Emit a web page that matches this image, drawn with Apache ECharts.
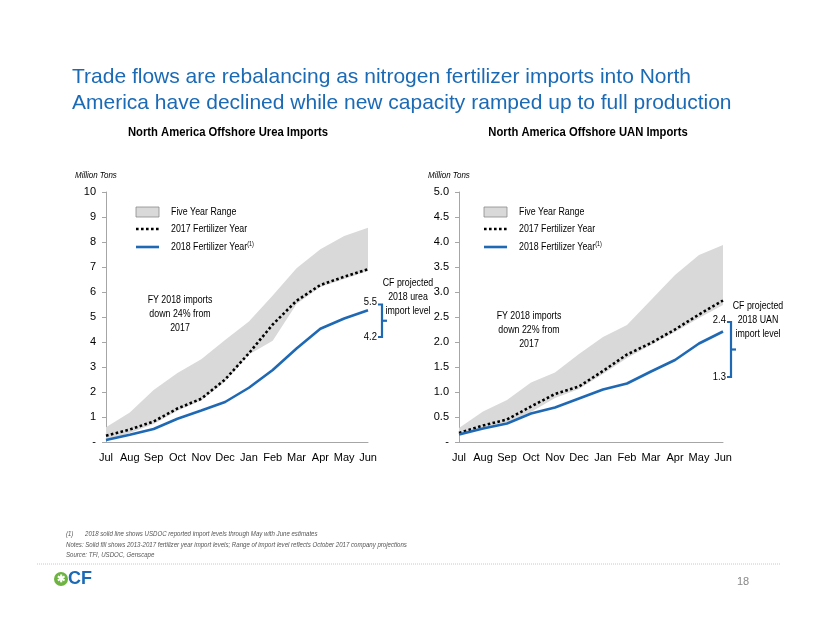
<!DOCTYPE html>
<html>
<head>
<meta charset="utf-8">
<script src="https://cdn.jsdelivr.net/npm/echarts@6/dist/echarts.min.js"></script>
<style>html,body{margin:0;padding:0;background:#fff;}#c{width:822px;height:635px;}</style>
</head>
<body>
<div id="c"></div>
<script>
var months = ['Jul','Aug','Sep','Oct','Nov','Dec','Jan','Feb','Mar','Apr','May','Jun'];

// Urea (million tons)
var ureaLow  = [0.03,0.36,0.72,1.25,1.66,2.42,3.50,4.05,5.52,6.20,6.52,6.84];
var ureaHigh = [0.59,1.18,2.08,2.76,3.31,4.08,4.82,5.86,6.95,7.71,8.24,8.57];
var urea2017 = [0.25,0.50,0.82,1.34,1.73,2.50,3.55,4.70,5.65,6.28,6.61,6.91];
var urea2018 = [0.08,0.29,0.52,0.93,1.26,1.60,2.17,2.88,3.74,4.53,4.94,5.27];
var ureaProj = [5.5,4.2];

// UAN (million tons)
var uanLow  = [0.13,0.28,0.40,0.60,0.88,1.06,1.36,1.68,1.94,2.20,2.48,2.74];
var uanHigh = [0.28,0.61,0.84,1.19,1.39,1.76,2.10,2.34,2.84,3.34,3.74,3.94];
var uan2017 = [0.18,0.33,0.45,0.71,0.96,1.11,1.42,1.75,1.98,2.25,2.55,2.83];
var uan2018 = [0.15,0.27,0.37,0.57,0.69,0.87,1.05,1.17,1.41,1.64,1.97,2.21];
var uanProj = [2.4,1.3];

var yTicksUrea = {min:0,max:10,interval:1};
var yTicksUan = {min:0,max:5,interval:0.5};

var FONT = "'Liberation Sans Narrow','Liberation Sans',Arial,sans-serif";
var BLUE = '#1f69b4';
var GRAY = '#d9d9d9';
var NX = 0.84;

function diff(a,b){return a.map(function(v,i){return +(v-b[i]).toFixed(3);});}

function seriesFor(idx, low, high, s17, s18){
  return [
    {type:'line',xAxisIndex:idx,yAxisIndex:idx,stack:'r'+idx,data:low,symbol:'none',
     lineStyle:{width:0,opacity:0},silent:true,z:1},
    {type:'line',xAxisIndex:idx,yAxisIndex:idx,stack:'r'+idx,data:diff(high,low),symbol:'none',
     lineStyle:{width:0,opacity:0},areaStyle:{color:GRAY,opacity:1},silent:true,z:1},
    {type:'line',xAxisIndex:idx,yAxisIndex:idx,data:s17,symbol:'none',
     lineStyle:{color:'#000',width:2.6,type:[2.6,2.4],cap:'butt'},z:3},
    {type:'line',xAxisIndex:idx,yAxisIndex:idx,data:s18,symbol:'none',
     lineStyle:{color:BLUE,width:2.6},z:4}
  ];
}

function xAxisFor(idx){
  return {type:'category',gridIndex:idx,data:months,boundaryGap:false,
    axisLine:{lineStyle:{color:'#a6a6a6',width:1}},axisTick:{show:false},
    axisLabel:{color:'#000',fontFamily:FONT,fontSize:11,margin:10,interval:0}};
}
function yAxisFor(idx, t, dec){
  return {type:'value',gridIndex:idx,min:t.min,max:t.max,interval:t.interval,
    axisLine:{show:true,lineStyle:{color:'#a6a6a6',width:1}},
    axisTick:{show:true,length:4,lineStyle:{color:'#a6a6a6'}},
    splitLine:{show:false},
    axisLabel:{color:'#000',fontFamily:FONT,fontSize:11,margin:10,
      formatter:function(v){return v===0?'-':(dec?v.toFixed(1):String(v));}}};
}

function ntext(x,y,text,font,opts){
  opts=opts||{};
  return {type:'text',x:x,y:y,scaleX:opts.sx||NX,originX:0,originY:0,
    style:{text:text,font:font,fill:opts.fill||'#000',textAlign:opts.align||'left',textVerticalAlign:opts.valign||'middle'}};
}

function legendGraphics(x0,y0){
  var g=[];
  g.push({type:'rect',shape:{x:x0,y:y0-5,width:23,height:10},style:{fill:GRAY,stroke:'#8c8c8c',lineWidth:0.8}});
  g.push(ntext(x0+35,y0,'Five Year Range','10.5px '+FONT));
  g.push({type:'line',shape:{x1:x0,y1:y0+17,x2:x0+23,y2:y0+17},style:{stroke:'#000',lineWidth:2.6,lineDash:[2.6,2.4]}});
  g.push(ntext(x0+35,y0+17,'2017 Fertilizer Year','10.5px '+FONT));
  g.push({type:'line',shape:{x1:x0,y1:y0+35,x2:x0+23,y2:y0+35},style:{stroke:BLUE,lineWidth:2.6}});
  g.push({type:'text',x:x0+35,y:y0+35,scaleX:NX,originX:0,originY:0,style:{rich:{a:{font:'10.5px '+FONT,fill:'#000'},s:{font:'6.5px '+FONT,fill:'#000',verticalAlign:'top',padding:[0,0,5,0]}},text:'{a|2018 Fertilizer Year}{s|(1)}',textVerticalAlign:'middle'}});
  return g;
}
function multiText(cx,y,lines){
  return lines.map(function(t,i){return ntext(cx,y+i*14,t,'10.5px '+FONT,{align:'center'});});
}

var chart = echarts.init(document.getElementById('c'),null,{renderer:'canvas'});

var baseGraphics = [
  {type:'text',x:72,y:77,style:{text:'Trade flows are rebalancing as nitrogen fertilizer imports into North',font:'21px Arial,"Liberation Sans",sans-serif',fill:'#1a6ab6',textVerticalAlign:'middle'}},
  {type:'text',x:72,y:103,style:{text:'America have declined while new capacity ramped up to full production',font:'21px Arial,"Liberation Sans",sans-serif',fill:'#1a6ab6',textVerticalAlign:'middle'}},
  ntext(228,133,'North America Offshore Urea Imports','bold 12.5px '+FONT,{align:'center',sx:0.9}),
  ntext(588,133,'North America Offshore UAN Imports','bold 12.5px '+FONT,{align:'center',sx:0.9}),
  ntext(75,175,'Million Tons','italic 9.5px '+FONT),
  ntext(428,175,'Million Tons','italic 9.5px '+FONT),
  ntext(66,534,'(1)','italic 7px '+FONT,{fill:'#555'}),
  ntext(85,534,'2018 solid line shows USDOC reported import levels through May with June estimates','italic 7px '+FONT,{fill:'#555',sx:0.87}),
  ntext(66,545,'Notes: Solid fill shows 2013-2017 fertilizer year import levels; Range of import level reflects October 2017 company projections','italic 7px '+FONT,{fill:'#555',sx:0.87}),
  ntext(66,555,'Source: TFI, USDOC, Genscape','italic 7px '+FONT,{fill:'#555',sx:0.87}),
  {type:'line',shape:{x1:37,y1:564,x2:780,y2:564},style:{stroke:'#c8c8c8',lineWidth:1,lineDash:[1,1]}},
  {type:'circle',shape:{cx:61,cy:579,r:7},style:{fill:'#6cb33f'}},
  {type:'text',x:61,y:579,style:{text:'✱',font:'bold 10px sans-serif',fill:'#fff',textAlign:'center',textVerticalAlign:'middle'}},
  {type:'text',x:68,y:579,style:{text:'CF',font:'bold 18px Arial,"Liberation Sans",sans-serif',fill:'#1a6ab6',textVerticalAlign:'middle'}},
  {type:'text',x:737,y:582,style:{text:'18',font:'11px Arial,"Liberation Sans",sans-serif',fill:'#888',textVerticalAlign:'middle'}}
].concat(legendGraphics(136,212), legendGraphics(484,212),
  multiText(180,300,['FY 2018 imports','down 24% from','2017']),
  multiText(529,316,['FY 2018 imports','down 22% from','2017']),
  multiText(408,283,['CF projected','2018 urea','import level']),
  multiText(758,306,['CF projected','2018 UAN','import level']));

chart.setOption({
  animation:false,
  backgroundColor:'#fff',
  grid:[{left:106,top:192,right:454,bottom:193},{left:459,top:192,right:99,bottom:193}],
  xAxis:[xAxisFor(0),xAxisFor(1)],
  yAxis:[yAxisFor(0,yTicksUrea,false),yAxisFor(1,yTicksUan,true)],
  series:seriesFor(0,ureaLow,ureaHigh,urea2017,urea2018).concat(seriesFor(1,uanLow,uanHigh,uan2017,uan2018)),
  graphic:baseGraphics
});

function bracket(idx, proj, dx){
  var top = chart.convertToPixel({gridIndex:idx},[months.length-1, proj[0]]);
  var bot = chart.convertToPixel({gridIndex:idx},[months.length-1, proj[1]]);
  var bx = top[0]+dx, mid=(top[1]+bot[1])/2;
  var st={stroke:BLUE,lineWidth:2.2,fill:null};
  return [
    {type:'polyline',shape:{points:[[bx-4,top[1]],[bx,top[1]],[bx,bot[1]],[bx-4,bot[1]]]},style:st},
    {type:'line',shape:{x1:bx,y1:mid,x2:bx+5,y2:mid},style:st},
    ntext(bx-5,top[1]-2,proj[0].toFixed(1),'10.5px '+FONT,{align:'right',sx:0.9}),
    ntext(bx-5,bot[1],proj[1].toFixed(1),'10.5px '+FONT,{align:'right',sx:0.9})
  ];
}
chart.setOption({graphic:baseGraphics.concat(bracket(0,ureaProj,14),bracket(1,uanProj,8))});
</script>
</body>
</html>
